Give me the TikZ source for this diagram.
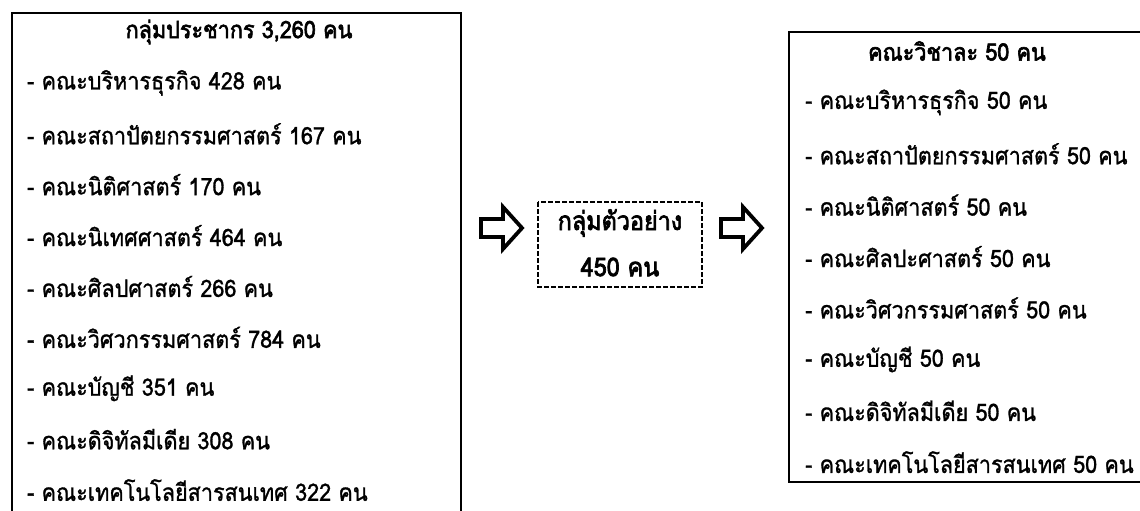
\documentclass[tikz,border=0pt]{standalone}
\usepackage{fontspec}
\newfontfamily\thaifont[Script=Thai,FakeBold=1.2,FakeStretch=0.9]{Loma}
\newfontfamily\thaititle[Script=Thai,FakeBold=2.6,FakeStretch=0.9]{Loma}
\begin{document}
\begin{tikzpicture}[x=1pt,y=-1pt,
  frame/.style={draw=black,line width=1.8pt},
  ttl/.style={font=\thaititle\fontsize{24}{26}\selectfont,inner sep=0pt},
  itm/.style={font=\thaifont\fontsize{24}{26}\selectfont,inner sep=0pt,anchor=west},
  barrow/.style={draw=black,line width=3.8pt,line join=miter,fill=white}]
\useasboundingbox (0,0) rectangle (1140,511);
% boxes
\draw[frame] (12,13) rectangle (461,525);
\draw[frame] (789,32) rectangle (1150,482);
\draw[draw=black,line width=1.2pt,dash pattern=on 5pt off 2pt] (538,202) rectangle (702,287);
% left column
\node[ttl] (Lt) at (239,32) {กลุ่มประชากร 3,260 คน};
\foreach \t [count=\i] in {คณะบริหารธุรกิจ 428 คน, คณะสถาปัตยกรรมศาสตร์ 167 คน, คณะนิติศาสตร์ 170 คน, คณะนิเทศศาสตร์ 464 คน, คณะศิลปศาสตร์ 266 คน, คณะวิศวกรรมศาสตร์ 784 คน, คณะบัญชี 351 คน, คณะดิจิทัลมีเดีย 308 คน, คณะเทคโนโลยีสารสนเทศ 322 คน}
  \node[itm] (L\i) at (27,{32+50.9*\i}) {- \t};
% middle
\node[ttl,font=\thaititle\fontsize{26}{28}\selectfont] (M1) at (620,223) {กลุ่มตัวอย่าง};
\node[ttl,font=\thaititle\fontsize{26}{28}\selectfont] (M2) at (620,267) {450 คน};
% right column
\node[ttl] (Rt) at (957,51) {คณะวิชาละ 50 คน};
\foreach \t [count=\i] in {คณะบริหารธุรกิจ 50 คน, คณะสถาปัตยกรรมศาสตร์ 50 คน, คณะนิติศาสตร์ 50 คน, คณะศิลปะศาสตร์ 50 คน, คณะวิศวกรรมศาสตร์ 50 คน, คณะบัญชี 50 คน, คณะดิจิทัลมีเดีย 50 คน, คณะเทคโนโลยีสารสนเทศ 50 คน}
  \node[itm] (R\i) at (805,{51+51.4*\i}) {- \t};
% block arrows
\draw[barrow] (481,219) -- (503,219) -- (503,207) -- (522,228) -- (503,249) -- (503,237) -- (481,237) -- cycle;
\draw[barrow] (721,219) -- (743,219) -- (743,207) -- (762,228) -- (743,249) -- (743,237) -- (721,237) -- cycle;
\end{tikzpicture}
\end{document}
